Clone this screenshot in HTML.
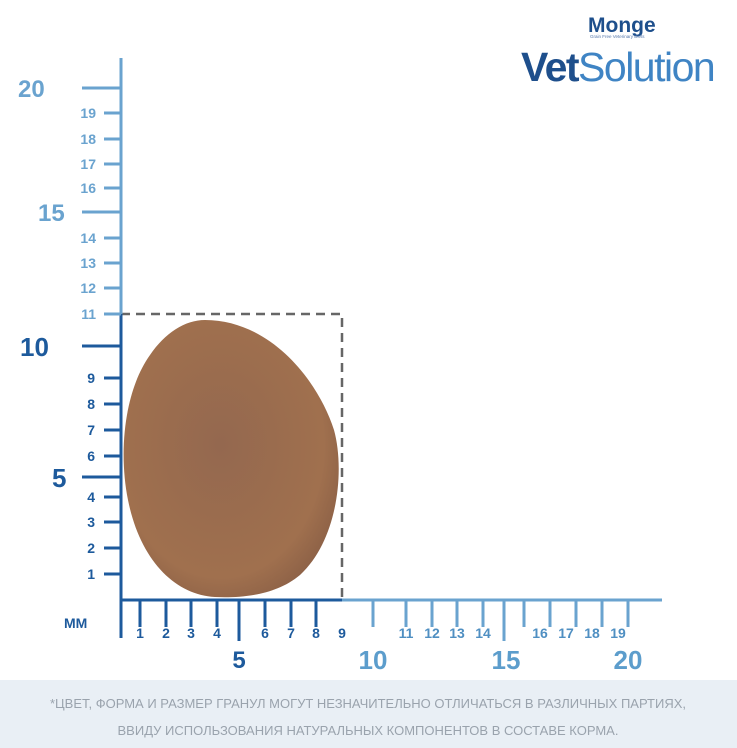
<!DOCTYPE html><html><head><meta charset="utf-8"><style>
body{margin:0;width:737px;height:748px;background:#fff;overflow:hidden;font-family:"Liberation Sans",sans-serif}
</style></head><body>
<svg width="737" height="748" viewBox="0 0 737 748" xmlns="http://www.w3.org/2000/svg" style="position:absolute;left:0;top:0">
<defs>
<radialGradient id="k" cx="45%" cy="45%" r="60%">
<stop offset="0" stop-color="#94684f"/><stop offset="0.8" stop-color="#a0704e"/><stop offset="1" stop-color="#8e6247"/>
</radialGradient>
</defs>
<rect x="0" y="680" width="737" height="68" fill="#e9eff5"/>
<text x="368" y="708" text-anchor="middle" font-size="13" fill="#9aa3ad">*ЦВЕТ, ФОРМА И РАЗМЕР ГРАНУЛ МОГУТ НЕЗНАЧИТЕЛЬНО ОТЛИЧАТЬСЯ В РАЗЛИЧНЫХ ПАРТИЯХ,</text>
<text x="368" y="735" text-anchor="middle" font-size="13" fill="#9aa3ad">ВВИДУ ИСПОЛЬЗОВАНИЯ НАТУРАЛЬНЫХ КОМПОНЕНТОВ В СОСТАВЕ КОРМА.</text>
<!-- kibble -->
<path d="M205 320 C270 320 318 380 334 430 C345 470 338 540 300 575 C275 596 240 598 215 597 C175 595 140 560 128 500 C118 450 125 390 150 355 C165 333 185 320 205 320 Z" fill="url(#k)"/>
<!-- dashed box -->
<path d="M121 314 H342 V600" fill="none" stroke="#666" stroke-width="2.5" stroke-dasharray="9,6"/>
<!-- axes -->
<line x1="121" y1="58" x2="121" y2="314" stroke="#6aa3cf" stroke-width="3"/>
<line x1="121" y1="314" x2="121" y2="638" stroke="#1d5a9c" stroke-width="3"/>
<line x1="121" y1="600" x2="342" y2="600" stroke="#1d5a9c" stroke-width="3"/>
<line x1="342" y1="600" x2="662" y2="600" stroke="#6aa3cf" stroke-width="3"/>
<g stroke="#6aa3cf" stroke-width="3">
<line x1="104" y1="288" x2="121" y2="288"/><line x1="104" y1="263" x2="121" y2="263"/><line x1="104" y1="238" x2="121" y2="238"/>
<line x1="82" y1="212" x2="121" y2="212"/><line x1="104" y1="188" x2="121" y2="188"/><line x1="104" y1="164" x2="121" y2="164"/>
<line x1="104" y1="139" x2="121" y2="139"/><line x1="104" y1="113" x2="121" y2="113"/><line x1="82" y1="88" x2="121" y2="88"/>
<line x1="104" y1="314" x2="121" y2="314"/>
<line x1="373" y1="600" x2="373" y2="627"/><line x1="406" y1="600" x2="406" y2="627"/><line x1="432" y1="600" x2="432" y2="627"/>
<line x1="457" y1="600" x2="457" y2="627"/><line x1="483" y1="600" x2="483" y2="627"/><line x1="504" y1="600" x2="504" y2="641"/>
<line x1="524" y1="600" x2="524" y2="627"/><line x1="550" y1="600" x2="550" y2="627"/><line x1="576" y1="600" x2="576" y2="627"/>
<line x1="602" y1="600" x2="602" y2="627"/><line x1="628" y1="600" x2="628" y2="627"/>
</g>
<g stroke="#1d5a9c" stroke-width="3">
<line x1="82" y1="346" x2="121" y2="346"/><line x1="104" y1="378" x2="121" y2="378"/><line x1="104" y1="404" x2="121" y2="404"/>
<line x1="104" y1="430" x2="121" y2="430"/><line x1="104" y1="456" x2="121" y2="456"/><line x1="82" y1="477" x2="121" y2="477"/>
<line x1="104" y1="497" x2="121" y2="497"/><line x1="104" y1="522" x2="121" y2="522"/><line x1="104" y1="548" x2="121" y2="548"/>
<line x1="104" y1="574" x2="121" y2="574"/>
<line x1="140" y1="600" x2="140" y2="627"/><line x1="166" y1="600" x2="166" y2="627"/><line x1="191" y1="600" x2="191" y2="627"/>
<line x1="217" y1="600" x2="217" y2="627"/><line x1="239" y1="600" x2="239" y2="641"/><line x1="265" y1="600" x2="265" y2="627"/>
<line x1="291" y1="600" x2="291" y2="627"/><line x1="316" y1="600" x2="316" y2="627"/>
</g>
<g font-weight="bold" font-size="14" fill="#6aa3cf" text-anchor="end">
<text x="96" y="319">11</text><text x="96" y="293">12</text><text x="96" y="268">13</text><text x="96" y="243">14</text>
<text x="96" y="193">16</text><text x="96" y="169">17</text><text x="96" y="144">18</text><text x="96" y="118">19</text>
</g>
<g font-weight="bold" font-size="24" fill="#6aa3cf">
<text x="38" y="221">15</text><text x="18" y="97">20</text>
</g>
<g font-weight="bold" font-size="14" fill="#1d5a9c" text-anchor="end">
<text x="95" y="383">9</text><text x="95" y="409">8</text><text x="95" y="435">7</text><text x="95" y="461">6</text>
<text x="95" y="502">4</text><text x="95" y="527">3</text><text x="95" y="553">2</text><text x="95" y="579">1</text>
</g>
<g font-weight="bold" font-size="26" fill="#1d5a9c">
<text x="20" y="356">10</text><text x="52" y="487">5</text>
</g>
<text x="64" y="628" font-weight="bold" font-size="14" fill="#1d5a9c">ММ</text>
<g font-weight="bold" font-size="14" fill="#1d5a9c" text-anchor="middle">
<text x="140" y="638">1</text><text x="166" y="638">2</text><text x="191" y="638">3</text><text x="217" y="638">4</text>
<text x="265" y="638">6</text><text x="291" y="638">7</text><text x="316" y="638">8</text><text x="342" y="638">9</text>
</g>
<text x="239" y="668" text-anchor="middle" font-weight="bold" font-size="24" fill="#1d5a9c">5</text>
<g font-weight="bold" font-size="14" fill="#4f8fc2" text-anchor="middle">
<text x="406" y="638">11</text><text x="432" y="638">12</text><text x="457" y="638">13</text><text x="483" y="638">14</text>
<text x="540" y="638">16</text><text x="566" y="638">17</text><text x="592" y="638">18</text><text x="618" y="638">19</text>
</g>
<g font-weight="bold" font-size="26" fill="#5c9dcc" text-anchor="middle">
<text x="373" y="669">10</text><text x="506" y="669">15</text><text x="628" y="669">20</text>
</g>
<!-- logo -->
<text x="588" y="32" font-weight="bold" font-size="21" fill="#1e4f8c">Monge</text>
<text x="590" y="38" font-size="4.5" fill="#5577aa">Grain Free Veterinary Diets</text>
<text x="521" y="81" font-size="41" letter-spacing="-1.5"><tspan font-weight="bold" fill="#1e4f8c">Vet</tspan><tspan fill="#3f84c4">Solution</tspan></text>
</svg>
</body></html>
